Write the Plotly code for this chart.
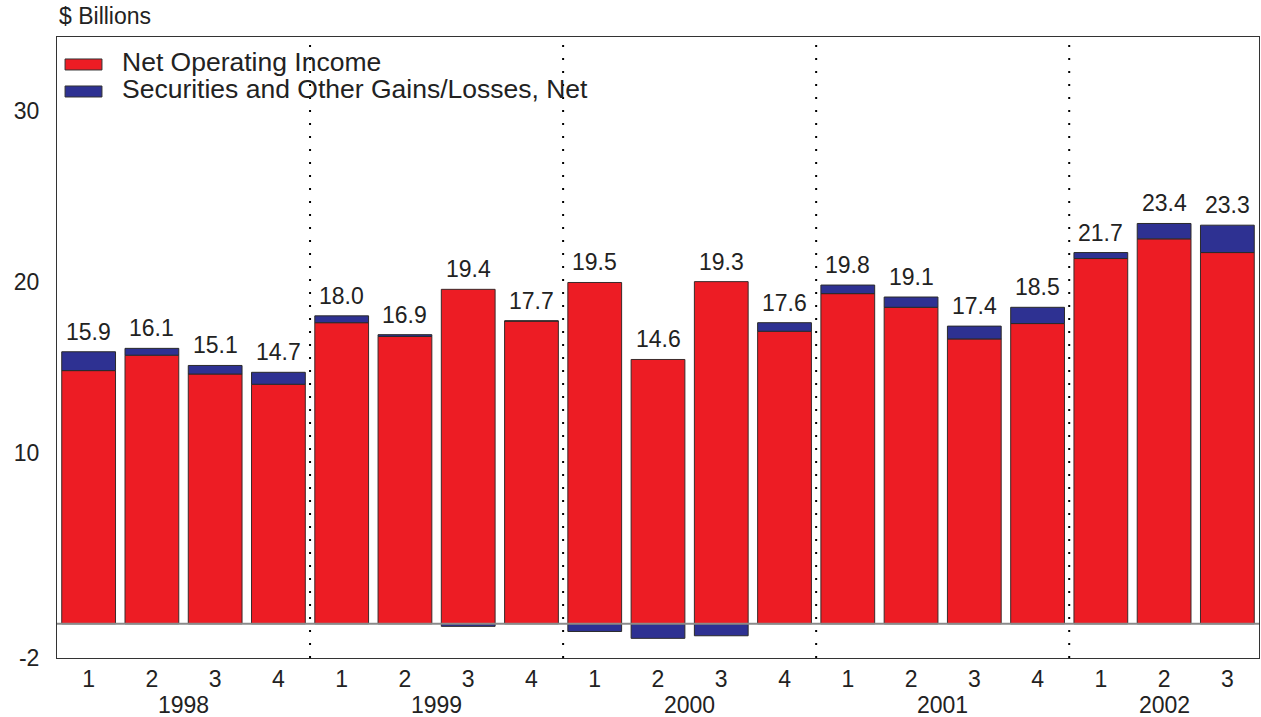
import plotly.graph_objects as go

# ---- data ----
quarters = ["1", "2", "3", "4", "1", "2", "3", "4", "1", "2", "3", "4",
            "1", "2", "3", "4", "1", "2", "3"]
years = ["1998", "1999", "2000", "2001", "2002"]
year_quarter_counts = [4, 4, 4, 4, 3]
net_operating = [14.8, 15.7, 14.6, 14.0, 17.6, 16.8, 19.55, 17.7, 19.95, 15.45,
                 20.0, 17.1, 19.3, 18.5, 16.65, 17.55, 21.35, 22.5, 21.7]
securities = [1.1, 0.4, 0.5, 0.7, 0.4, 0.1, -0.15, 0.0, -0.45, -0.85,
              -0.7, 0.5, 0.5, 0.6, 0.75, 0.95, 0.35, 0.9, 1.6]
net_total_labels = ["15.9", "16.1", "15.1", "14.7", "18.0", "16.9", "19.4", "17.7",
                    "19.5", "14.6", "19.3", "17.6", "19.8", "19.1", "17.4", "18.5",
                    "21.7", "23.4", "23.3"]
y_tick_vals = [-2, 10, 20, 30]
y_tick_text = ["-2", "10", "20", "30"]
y_range = [-2, 34.3]

RED = "#ED1C24"
BLUE = "#2E3192"
FONT = "Liberation Sans, Arial, sans-serif"

x = list(range(len(quarters)))

fig = go.Figure()
fig.add_trace(go.Bar(x=x, y=net_operating, name="Net Operating Income",
                     marker=dict(color=RED, line=dict(color="#3a2a2a", width=1)),
                     width=0.85, showlegend=False))
fig.add_trace(go.Bar(x=x, y=securities, name="Securities and Other Gains/Losses, Net",
                     marker=dict(color=BLUE, line=dict(color="#2a2a2a", width=1)),
                     width=0.85, showlegend=False))

annotations = []
# value labels above each stacked bar
for i, (r, s, t) in enumerate(zip(net_operating, securities, net_total_labels)):
    top = r + max(s, 0)
    annotations.append(dict(x=i, y=top, xref="x", yref="y", text=t, showarrow=False,
                            yanchor="bottom", yshift=5,
                            font=dict(family=FONT, size=23, color="#222")))

# year labels under quarter ticks
start = 0
for yr, n in zip(years, year_quarter_counts):
    center = start + (n - 1) / 2
    annotations.append(dict(x=center, y=-0.075, xref="x", yref="paper", text=yr,
                            showarrow=False, yanchor="middle",
                            font=dict(family=FONT, size=23, color="#222")))
    start += n

# axis title
annotations.append(dict(x=0, y=1.034, xref="paper", yref="paper", text="$ Billions",
                        showarrow=False, xanchor="left", yanchor="middle",
                        font=dict(family=FONT, size=23, color="#222")))

# manual legend
legend_items = [("Net Operating Income", RED, 0.9469, 0.9646),
                ("Securities and Other Gains/Losses, Net", BLUE, 0.9034, 0.9211)]
shapes = []
for name, col, y0, y1 in legend_items:
    shapes.append(dict(type="rect", xref="paper", yref="paper", x0=0.0067, x1=0.0374,
                       y0=y0, y1=y1, fillcolor=col, line=dict(color="#333", width=1)))
    annotations.append(dict(x=0.0524, y=(y0 + y1) / 2 + 0.004, xref="paper", yref="paper",
                            text=name, showarrow=False, xanchor="left", yanchor="middle",
                            font=dict(family=FONT, size=26.5, color="#222")))

# year separators (dotted)
start = 0
for n in year_quarter_counts[:-1]:
    start += n
    shapes.append(dict(type="line", xref="x", yref="paper", x0=start - 0.5, x1=start - 0.5,
                       y0=0, y1=1, line=dict(color="black", width=2, dash="2px,11px"),
                       layer="below"))

# zero line
shapes.append(dict(type="line", xref="paper", yref="y", x0=0, x1=1, y0=0, y1=0,
                   line=dict(color="#8a8a8a", width=2), layer="above"))

fig.update_layout(
    width=1261, height=717,
    margin=dict(l=57, r=2, t=37, b=59),
    barmode="relative",
    bargap=0.15,
    plot_bgcolor="white", paper_bgcolor="white",
    font=dict(family=FONT, size=22, color="#222"),
    annotations=annotations,
    shapes=shapes,
    showlegend=False,
)
fig.update_xaxes(range=[-0.5, len(quarters) - 0.5], tickmode="array", tickvals=x,
                 ticktext=quarters, showgrid=False, zeroline=False,
                 showline=True, linecolor="#333", linewidth=1, mirror=True,
                 ticks="", tickfont=dict(size=23), ticklabelstandoff=0)
fig.update_yaxes(range=y_range, tickmode="array", tickvals=y_tick_vals,
                 ticktext=y_tick_text,
                 showgrid=False, zeroline=False,
                 showline=True, linecolor="#333", linewidth=1, mirror=True,
                 ticks="", tickfont=dict(size=23), ticklabelstandoff=12)

fig.write_html("out.html", config={"displayModeBar": False},
               post_script="document.body.style.margin='0';document.body.style.overflow='hidden';")
